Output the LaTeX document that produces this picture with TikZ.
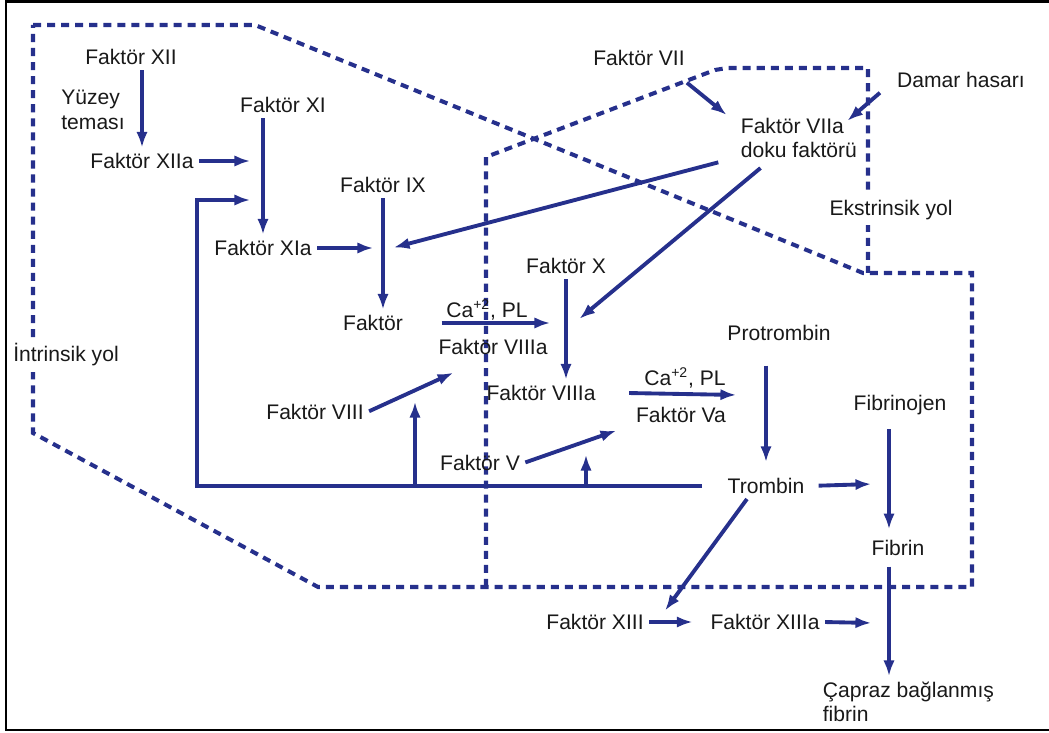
\documentclass[tikz,border=0pt]{standalone}
\usepackage{fontspec}
\setmainfont{Liberation Sans}
\usepackage{xcolor}
\usetikzlibrary{arrows.meta,calc}
\definecolor{kanmavi}{RGB}{38,48,140}
\definecolor{yazi}{RGB}{25,25,25}

\begin{document}
\begin{tikzpicture}[x=0.02cm, y=-0.02cm, >={Latex[length=9pt,width=6.5pt]},
    etiket/.style={text=yazi, font=\fontsize{12}{14}\selectfont, inner sep=2pt},
    ok/.style={->, kanmavi, line width=2.2pt, shorten >=1pt, shorten <=1pt},
    sinir/.style={kanmavi, line width=2.3pt, dash pattern=on 4.6pt off 3.4pt},
    cerceve/.style={black, line width=1.6pt}]

    \useasboundingbox (0,0) rectangle (1049,733);

    % --- KATMAN 1: CERCEVE ---
    \draw[cerceve] (1049,1.5) -- (6,1.5) -- (6,730) -- (1049,730);

    % --- KATMAN 2: YOL SINIRLARI (kesikli) ---
    \draw[sinir] (33,25) -- (255,25) -- (863,273) -- (972,273) -- (972,587) -- (318,587) -- (33,433) -- cycle; % intrinsik
    \draw[sinir] (486,587) -- (486,157) -- (715,70) -- (727,68) -- (868,68) -- (868,273); % ekstrinsik

    % --- KATMAN 3: FAKTORLER ---
    \node[etiket] (f12) at (131,57) {Faktör XII};
    \node[etiket, align=left] (yuzey) at (93,110) {Yüzey\\teması};
    \node[etiket] (f12a) at (142,161) {Faktör XIIa};
    \node[etiket] (f11) at (283,105) {Faktör XI};
    \node[etiket] (f11a) at (263,248) {Faktör XIa};
    \node[etiket] (f9) at (383,185) {Faktör IX};
    \node[etiket] (f9a) at (373,323) {Faktör};
    \node[etiket] (ca1) at (487,310) {Ca\textsuperscript{+2}, PL};
    \node[etiket] (f8a1) at (493,347) {Faktör VIIIa};
    \node[etiket] (f8) at (315,412) {Faktör VIII};
    \node[etiket] (f10) at (566,266) {Faktör X};
    \node[etiket] (f8a2) at (541,393) {Faktör VIIIa};
    \node[etiket] (ca2) at (685,378) {Ca\textsuperscript{+2}, PL};
    \node[etiket] (f5a) at (681,415) {Faktör Va};
    \node[etiket] (f5) at (480,463) {Faktör V};
    \node[etiket] (protr) at (779,333) {Protrombin};
    \node[etiket] (trombin) at (766,486) {Trombin};
    \node[etiket] (fibrinojen) at (900,405) {Fibrinojen};
    \node[etiket] (fibrin) at (898,548) {Fibrin};
    \node[etiket] (f13) at (595,622) {Faktör XIII};
    \node[etiket] (f13a) at (765,622) {Faktör XIIIa};
    \node[etiket, align=left, anchor=west] (capraz) at (819,702) {Çapraz bağlanmış\\fibrin};
    \node[etiket] (f7) at (639,58) {Faktör VII};
    \node[etiket, align=left, anchor=west] (f7a) at (737,138) {Faktör VIIa\\doku faktörü};
    \node[etiket] (damar) at (961,80) {Damar hasarı};
    \node[etiket, fill=white, inner sep=3pt] (ekstr) at (891,210) {Ekstrinsik yol};
    \node[etiket, fill=white, inner sep=3pt] (intr) at (66,355) {İntrinsik yol};

    % --- KATMAN 4: BAGLANTI NOKTALARI ---
    \coordinate (j1) at (252,161);
    \coordinate (j2) at (252,200);
    \coordinate (fbk) at (197,486);
    \coordinate (j3) at (455,372);
    \coordinate (t8) at (415,400);
    \coordinate (j4) at (618,430);
    \coordinate (t5) at (586,453);
    \coordinate (j5) at (375,248);
    \coordinate (j6) at (392,248);
    \coordinate (j7) at (578,320);
    \coordinate (j8) at (846,122);
    \coordinate (j9) at (552,323);
    \coordinate (j10) at (738,395);
    \coordinate (j11) at (873,484);
    \coordinate (j12) at (664,612);
    \coordinate (j13) at (873,623);
    \coordinate (fbx) at ($(fibrinojen.south)+(-11,0)$);

    % --- KATMAN 5: OKLAR ---
    % intrinsik yol
    \draw[ok] (f12a.north |- f12.south) -- (f12a.north);
    \draw[ok] (f12a.east) -- (j1);
    \draw[ok] (f11a.north |- f11.south) -- (f11a.north);
    \draw[ok] (f11a.east) -- (j5);
    \draw[ok] (f9.south) -- (f9.south |- f9a.north);
    \draw[ok] ($(f9a.east)+(33,0)$) -- (j9);
    \draw[ok] (f8.east) -- (j3);

    % ekstrinsik yol
    \draw[ok] ($(f7.south east)+(-3,12)$) -- ($(f7a.north west)+(-9,2)$);
    \draw[ok] ($(damar.south west)+(-12,0)$) -- (j8);
    \draw[ok] ($(f7a.south west)+(-17,0)$) -- (j6);
    \draw[ok] ($(f7a.south)+(-37,5)$) -- (j7);

    % ortak yol
    \draw[ok] (f10.south) -- (f10.south |- f8a2.north);
    \draw[ok] ($(f8a2.east)+(28,0)$) -- (j10);
    \draw[ok] (f5.east) -- (j4);
    \draw[ok, shorten <=12pt, shorten >=7pt] (protr.south -| trombin.north) -- (trombin.north);

    % trombin geri besleme
    \draw[ok] ($(trombin.west)+(-20,0)$) -- (fbk) |- (j2);
    \draw[ok] (t8 |- fbk) -- (t8);
    \draw[ok] (t5 |- fbk) -- (t5);

    % fibrin olusumu
    \draw[ok, shorten <=6pt] (trombin.east) -- (j11);
    \draw[ok, shorten <=6pt, shorten >=4pt] (fbx) -- (fbx |- fibrin.north);
    \draw[ok, shorten <=4pt] (fbx |- fibrin.south) -- (fbx |- capraz.north);
    \draw[ok] ($(trombin.south)+(-18,0)$) -- (j12);
    \draw[ok, shorten >=8pt] (f13.east) -- (f13a.west);
    \draw[ok] (f13a.east) -- (j13);

\end{tikzpicture}
\end{document}
